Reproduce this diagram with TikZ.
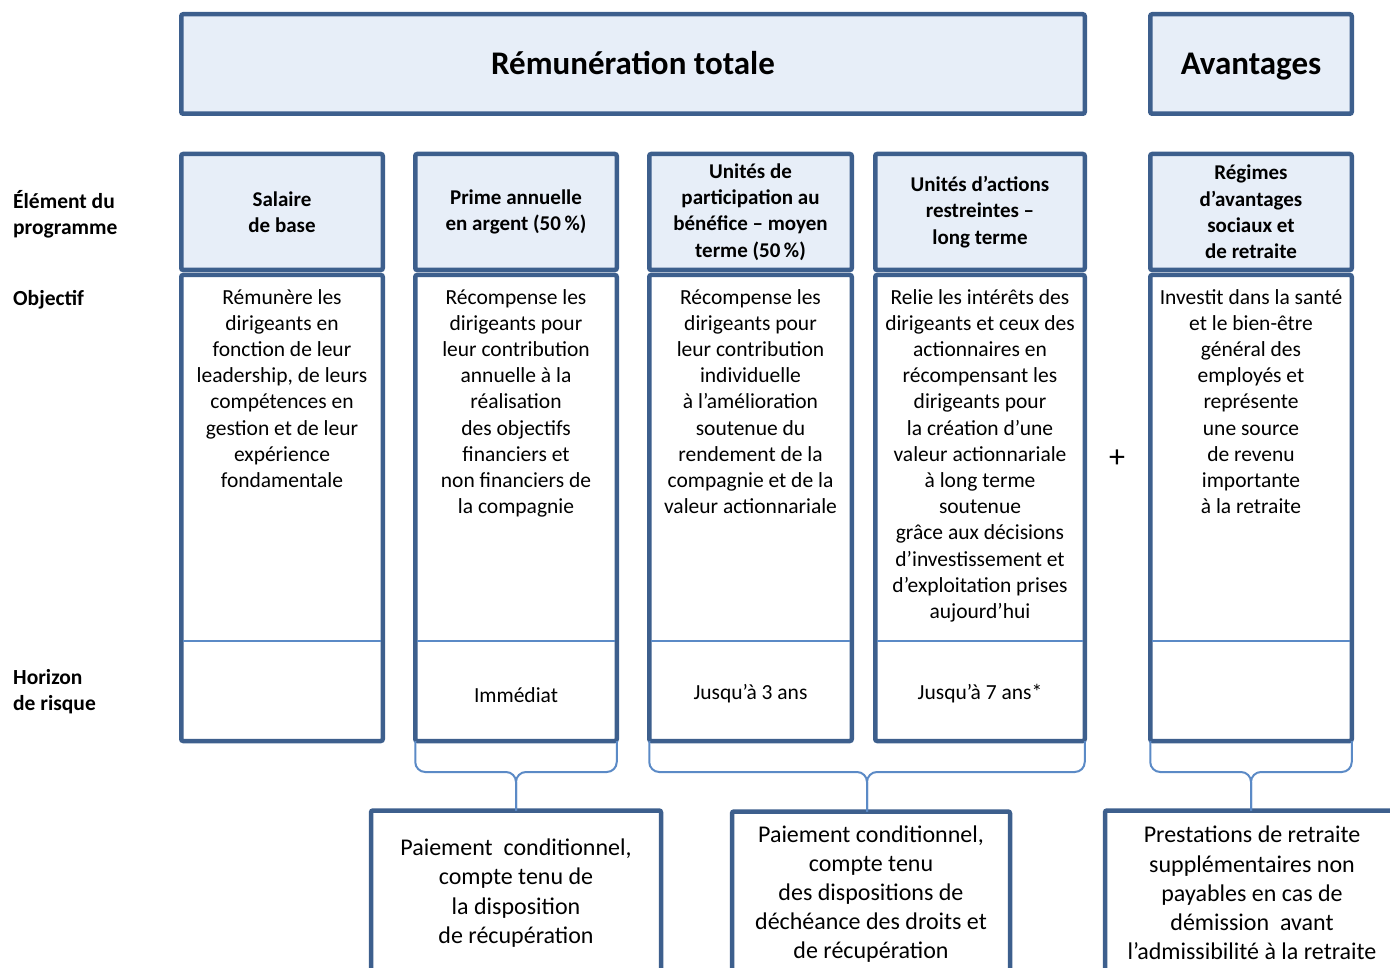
\documentclass[tikz,border=0pt]{standalone}
\usepackage{fontspec}
\setmainfont{Carlito}
\usetikzlibrary{calc}
\definecolor{bord}{HTML}{3D5F8D}
\definecolor{hfill}{HTML}{E7EEF8}
\definecolor{thinb}{HTML}{5B8AC6}
\tikzset{
  frame/.style={draw=bord, line width=4.5pt, rounded corners=2pt, outer sep=0pt, inner sep=0pt},
  hdr/.style={frame, fill=hfill, align=center, font=\bfseries\fontsize{21}{26.2}\selectfont},
  topbox/.style={frame, fill=hfill, text height=24pt, text depth=3pt, font=\bfseries\fontsize{33}{40}\selectfont},
  bodybox/.style={frame, fill=white},
  objtxt/.style={align=center, inner sep=0pt, anchor=north, font=\fontsize{21.5}{26.2}\selectfont},
  hortxt/.style={inner sep=0pt, font=\fontsize{21.5}{26.2}\selectfont},
  lbl/.style={align=left, inner sep=0pt, anchor=north west, font=\bfseries\fontsize{21.5}{26.2}\selectfont},
  bottombox/.style={frame, fill=white, align=center, font=\fontsize{24}{29.2}\selectfont},
  sepline/.style={draw=thinb, line width=2pt},
  bracket/.style={draw=thinb, line width=2pt, rounded corners=10pt}
}
\begin{document}
\begin{tikzpicture}[x=1pt,y=-1pt]
\useasboundingbox (0,0) rectangle (1390,968);
\clip (0,0) rectangle (1390,968);

% top boxes
\node[topbox, minimum width=903.5pt, minimum height=99.5pt] (tot) at (633,64) {Rémunération totale};
\node[topbox, minimum width=201.5pt, minimum height=99.5pt] (av) at (1251,64) {Avantages};

% left labels
\node[lbl] (l1) at (13,190) {Élément du\\programme};
\node[lbl] (l2) at (13,290) {Objectif};
\node[lbl] (l3) at (13,669) {Horizon\\de risque};

% column bodies
\node[bodybox, minimum width=201.5pt, minimum height=466pt] (b1) at (282,508) {};
\node[bodybox, minimum width=201.5pt, minimum height=466pt] (b2) at (516,508) {};
\node[bodybox, minimum width=202.5pt, minimum height=466pt] (b3) at (750.5,508) {};
\node[bodybox, minimum width=209.5pt, minimum height=466pt] (b4) at (980,508) {};
\node[bodybox, minimum width=201.5pt, minimum height=466pt] (b5) at (1251,508) {};

% column headers
\node[hdr, minimum width=201.5pt, minimum height=116pt] (h1) at (282,212) {Salaire\\de base};
\node[hdr, minimum width=201.5pt, minimum height=116pt] (h2) at (516,212) {Prime annuelle\\en argent (50\,\%)};
\node[hdr, minimum width=202.5pt, minimum height=116pt] (h3) at (750.5,212) {Unités de\\participation au\\bénéfice – moyen\\terme (50\,\%)};
\node[hdr, minimum width=209.5pt, minimum height=116pt] (h4) at (980,212) {Unités d’actions\\restreintes –\\long terme};
\node[hdr, minimum width=201.5pt, minimum height=116pt] (h5) at (1251,212) {Régimes\\d’avantages\\sociaux et\\de retraite};

% separator lines
\coordinate (ysep) at (0,641);
\foreach \b in {b1,b2,b3,b4,b5}{
  \draw[sepline] ([xshift=2pt]\b.west |- ysep) -- ([xshift=-2pt]\b.east |- ysep);
}

% objectives
\node[objtxt] (o1) at (282,289) {Rémunère les\\dirigeants en\\fonction de leur\\leadership, de leurs\\compétences en\\gestion et de leur\\expérience\\fondamentale};
\node[objtxt] (o2) at (516,289) {Récompense les\\dirigeants pour\\leur contribution\\annuelle à la\\réalisation\\des objectifs\\financiers et\\non financiers de\\la compagnie};
\node[objtxt] (o3) at (750.5,289) {Récompense les\\dirigeants pour\\leur contribution\\individuelle\\à l’amélioration\\soutenue du\\rendement de la\\compagnie et de la\\valeur actionnariale};
\node[objtxt] (o4) at (980,289) {Relie les intérêts des\\dirigeants et ceux des\\actionnaires en\\récompensant les\\dirigeants pour\\la création d’une\\valeur actionnariale\\à long terme\\soutenue\\grâce aux décisions\\d’investissement et\\d’exploitation prises\\aujourd’hui};
\node[objtxt] (o5) at (1251,289) {Investit dans la santé\\et le bien-être\\général des\\employés et\\représente\\une source\\de revenu\\importante\\à la retraite};

% horizons
\node[hortxt] (r2) at (516,695) {Immédiat};
\node[hortxt] (r3) at (750.5,694) {Jusqu’à 3 ans};
\node[hortxt] (r4) at (980,694) {Jusqu’à 7 ans*};

% plus sign
\node[inner sep=0pt, font=\fontsize{32}{36}\selectfont] (plus) at (1117,459) {+};

% bottom boxes
\node[bottombox, minimum width=290pt, minimum height=165pt] (p1) at (516,893) {Paiement \ conditionnel,\\compte tenu de\\la disposition\\de récupération};
\node[bottombox, minimum width=278pt, minimum height=165pt] (p2) at (871,894) {Paiement conditionnel,\\compte tenu\\des dispositions de\\déchéance des droits et\\de récupération};
\node[bottombox, minimum width=300pt, minimum height=165pt] (p3) at (1255,893) {\hspace*{-6pt}Prestations de retraite\\\hspace*{-6pt}supplémentaires non\\\hspace*{-6pt}payables en cas de\\\hspace*{-6pt}démission \ avant\\\hspace*{-6pt}l’admissibilité à la retraite};

% brackets
\coordinate (yb) at (0,772);
\draw[bracket] (b2.south west) -- (b2.south west |- yb) -- (p1.north |- yb) -- (p1.north);
\draw[bracket] (b2.south east) -- (b2.south east |- yb) -- (p1.north |- yb) -- (p1.north);
\coordinate (t2) at (867,0);
\draw[bracket] (b3.south west) -- (b3.south west |- yb) -- (t2 |- yb) -- (t2 |- p2.north);
\draw[bracket] (b4.south east) -- (b4.south east |- yb) -- (t2 |- yb) -- (t2 |- p2.north);
\coordinate (t3) at (1251,0);
\draw[bracket] (b5.south west) -- (b5.south west |- yb) -- (t3 |- yb) -- (t3 |- p3.north);
\draw[bracket] (b5.south east) -- (b5.south east |- yb) -- (t3 |- yb) -- (t3 |- p3.north);
\end{tikzpicture}
\end{document}
